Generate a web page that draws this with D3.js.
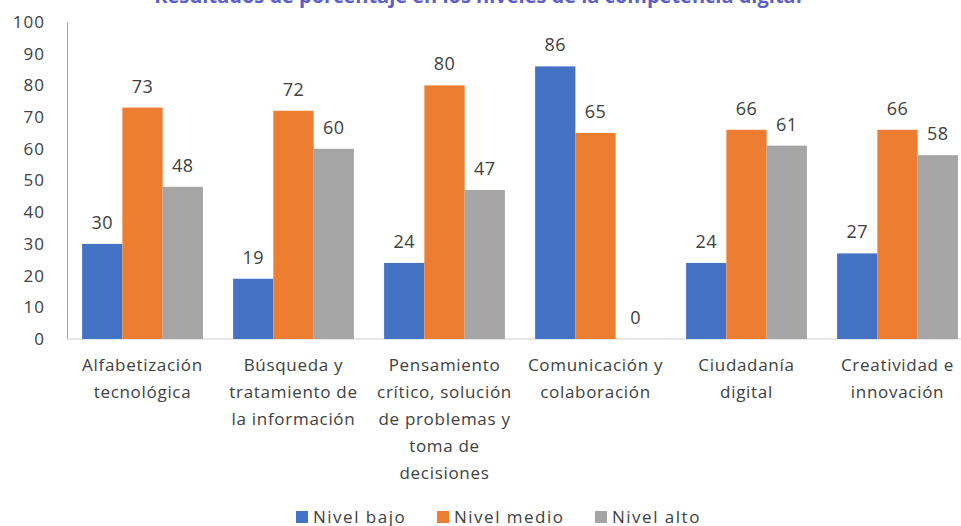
<!DOCTYPE html>
<html>
<head>
<meta charset="utf-8">
<script src="https://cdn.jsdelivr.net/npm/d3@7"></script>
<style>
  body { margin: 0; background: #fff; }
  svg { display: block; font-family: "Open Sans", "Liberation Sans", sans-serif; }
</style>
</head>
<body>
<div id="chart"></div>
<script>
  var w = 961, h = 526;

  var categories = [
    ["Alfabetización", "tecnológica"],
    ["Búsqueda y", "tratamiento de", "la información"],
    ["Pensamiento", "crítico, solución", "de problemas y", "toma de", "decisiones"],
    ["Comunicación y", "colaboración"],
    ["Ciudadanía", "digital"],
    ["Creatividad e", "innovación"]
  ];
  var series = ["Nivel bajo", "Nivel medio", "Nivel alto"];
  var nivelBajo = [30, 19, 24, 86, 24, 27];
  var nivelMedio = [73, 72, 80, 65, 66, 66];
  var nivelAlto = [48, 60, 47, 0, 61, 58];
  var yTicks = [0, 10, 20, 30, 40, 50, 60, 70, 80, 90, 100];
  var colors = ["#4472C4", "#ED7D31", "#A5A5A5"];
  var title = "Resultados de porcentaje en los niveles de la competencia digital";

  var values = [nivelBajo, nivelMedio, nivelAlto];
  var rows = categories.map(function(c, i) {
    return { idx: i, label: c, vals: values.map(function(v) { return v[i]; }) };
  });

  var svg = d3.select("#chart").append("svg").attr("width", w).attr("height", h);

  // titulo recortado en la parte superior
  svg.append("text").attr("x", 478).attr("y", 3)
    .attr("text-anchor", "middle").attr("fill", "#5B5FC7")
    .style("font-size", "20px").style("font-weight", "bold")
    .text(title);

  var x0 = d3.scaleBand().domain(d3.range(categories.length)).range([67, 973]).paddingInner(0.2).paddingOuter(0.1);
  var x1 = d3.scaleBand().domain(d3.range(series.length)).range([0, x0.bandwidth()]);
  var y = d3.scaleLinear().domain([0, 100]).range([339, 22]);

  // eje y
  var yAxis = svg.append("g").attr("transform", "translate(67,0)")
    .call(d3.axisLeft(y).tickValues(yTicks).tickSize(0).tickPadding(22));
  yAxis.select(".domain").attr("stroke", "#A6A6A6");
  yAxis.selectAll("text").attr("fill", "#404040").style("font-size", "17px")
    .style("letter-spacing", "1px")
    .style("font-family", "'Open Sans', sans-serif");

  // eje x
  svg.append("line").attr("x1", 67).attr("x2", w).attr("y1", y(0)).attr("y2", y(0))
    .attr("stroke", "#D0D0D0").attr("stroke-width", 1);

  var groups = svg.selectAll("g.grp").data(rows).enter().append("g")
    .attr("class", "grp")
    .attr("transform", function(d) { return "translate(" + x0(d.idx) + ",0)"; });

  groups.each(function(d) {
    var g = d3.select(this);
    d.vals.forEach(function(v, j) {
      g.append("rect").attr("x", x1(j)).attr("width", x1.bandwidth())
        .attr("y", y(v)).attr("height", y(0) - y(v)).attr("fill", colors[j]);
      g.append("text").attr("x", x1(j) + x1.bandwidth() / 2).attr("y", y(v) - 15)
        .attr("text-anchor", "middle").attr("fill", "#404040")
        .style("font-size", "18px").style("letter-spacing", "0.5px").text(v);
    });
    var t = g.append("text").attr("text-anchor", "middle").attr("fill", "#404040")
      .style("font-size", "17px").style("letter-spacing", "0.7px");
    d.label.forEach(function(line, k) {
      t.append("tspan").attr("x", x0.bandwidth() / 2).attr("y", 371 + k * 27).text(line);
    });
  });

  // leyenda
  var legX = [296, 437, 595];
  var leg = svg.selectAll("g.leg").data(series).enter().append("g")
    .attr("class", "leg")
    .attr("transform", function(d, i) { return "translate(" + legX[i] + ",511)"; });
  leg.append("rect").attr("width", 12).attr("height", 12)
    .attr("fill", function(d, i) { return colors[i]; });
  leg.append("text").attr("x", 17).attr("y", 12).attr("fill", "#404040")
    .style("font-size", "17px").style("letter-spacing", "1.5px")
    .text(function(d) { return d; });
</script>
</body>
</html>
